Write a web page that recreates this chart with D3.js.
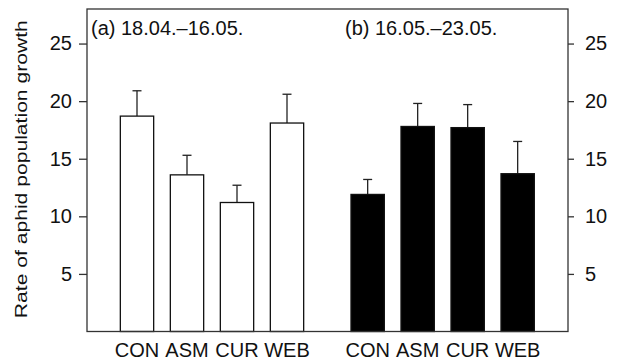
<!DOCTYPE html>
<html>
<head>
<meta charset="utf-8">
<script src="https://cdn.jsdelivr.net/npm/d3@7"></script>
<style>
	body { margin: 0; background: #fff; }
	text { font-family: "Liberation Sans", Arial, sans-serif; fill: #111; }
</style>
</head>
<body>
<div id="viz"></div>
<script>
// treatments and the two sampling periods
var categories = ['CON', 'ASM', 'CUR', 'WEB'];
var periods = ['(a) 18.04.\u201316.05.', '(b) 16.05.\u201323.05.'];
var meansA = [18.7, 13.6, 11.2, 18.1];
var errorsA = [2.2, 1.7, 1.5, 2.5];
var meansB = [11.9, 17.8, 17.7, 13.7];
var errorsB = [1.3, 2.0, 2.0, 2.8];
var yTicks = [5, 10, 15, 20, 25];
var yLabel = 'Rate of aphid population growth';

var width = 621,
		height = 361,
		plotLeft = 87, plotRight = 568, plotTop = 9, plotBottom = 331.5;

var svg = d3.select('#viz')
	.append('svg')
	.attr('width', width)
	.attr('height', height);

// x in "bar units": bar width 1, gap 0.5
var x = d3.scaleLinear().domain([0, 14.43]).range([plotLeft, plotRight]);
var y = d3.scaleLinear().domain([0, 28]).range([plotBottom, plotTop]);

var groups = [
	{ title: periods[0], means: meansA, errors: errorsA, start: 1, fill: '#fff', titleX: 91 },
	{ title: periods[1], means: meansB, errors: errorsB, start: 7.92, fill: '#000', titleX: 345 }
];

groups.forEach(function(g){
	var rows = categories.map(function(c, i){
		return { cat: c, mean: g.means[i], err: g.errors[i], x0: g.start + 1.5*i };
	});

	var grp = svg.append('g');

	// error bars (upper only)
	grp.selectAll('.err')
		.data(rows)
		.enter().append('line')
			.attr('x1', function(d){ return x(d.x0 + 0.5); })
			.attr('x2', function(d){ return x(d.x0 + 0.5); })
			.attr('y1', function(d){ return y(d.mean); })
			.attr('y2', function(d){ return y(d.mean + d.err); })
			.style('stroke', '#222')
			.style('stroke-width', 1.3);

	grp.selectAll('.cap')
		.data(rows)
		.enter().append('line')
			.attr('x1', function(d){ return x(d.x0 + 0.5) - 4.5; })
			.attr('x2', function(d){ return x(d.x0 + 0.5) + 4.5; })
			.attr('y1', function(d){ return y(d.mean + d.err); })
			.attr('y2', function(d){ return y(d.mean + d.err); })
			.style('stroke', '#222')
			.style('stroke-width', 1.3);

	grp.selectAll('.bar')
		.data(rows)
		.enter().append('rect')
			.attr('x', function(d){ return x(d.x0); })
			.attr('y', function(d){ return y(d.mean); })
			.attr('width', function(d){ return x(d.x0 + 1) - x(d.x0); })
			.attr('height', function(d){ return y(0) - y(d.mean); })
			.style('fill', g.fill)
			.style('stroke', '#111')
			.style('stroke-width', 1.3);

	grp.selectAll('.xlabel')
		.data(rows)
		.enter().append('text')
			.attr('x', function(d){ return x(d.x0 + 0.5); })
			.attr('y', 357)
			.attr('text-anchor', 'middle')
			.style('font-size', '20px')
			.text(function(d){ return d.cat; });

	grp.append('text')
		.attr('x', g.titleX)
		.attr('y', 35)
		.style('font-size', '20px')
		.text(g.title);
});

// frame
svg.append('rect')
	.attr('x', plotLeft)
	.attr('y', plotTop)
	.attr('width', plotRight - plotLeft)
	.attr('height', plotBottom - plotTop)
	.style('fill', 'none')
	.style('stroke', '#333')
	.style('stroke-width', 1.3);

// left axis
var axisL = svg.append('g').attr('transform', 'translate(' + plotLeft + ',0)')
	.call(d3.axisLeft(y).tickValues(yTicks).tickSize(8).tickPadding(7));
// right axis
var axisR = svg.append('g').attr('transform', 'translate(' + plotRight + ',0)')
	.call(d3.axisRight(y).tickValues(yTicks).tickSize(6).tickPadding(11));

[axisL, axisR].forEach(function(a){
	a.select('.domain').remove();
	a.selectAll('line').style('stroke', '#333').style('stroke-width', 1.3);
	a.selectAll('text')
		.style('font-size', '20px')
		.style('font-family', '"Liberation Sans", Arial, sans-serif')
		.style('fill', '#111');
});

// y label is drawn stretched along its length in the original
svg.append('text')
	.attr('transform', 'translate(26.7,169.2) rotate(-90) scale(1.28,1)')
	.attr('text-anchor', 'middle')
	.style('font-size', '16.5px')
	.text(yLabel);
</script>
</body>
</html>
